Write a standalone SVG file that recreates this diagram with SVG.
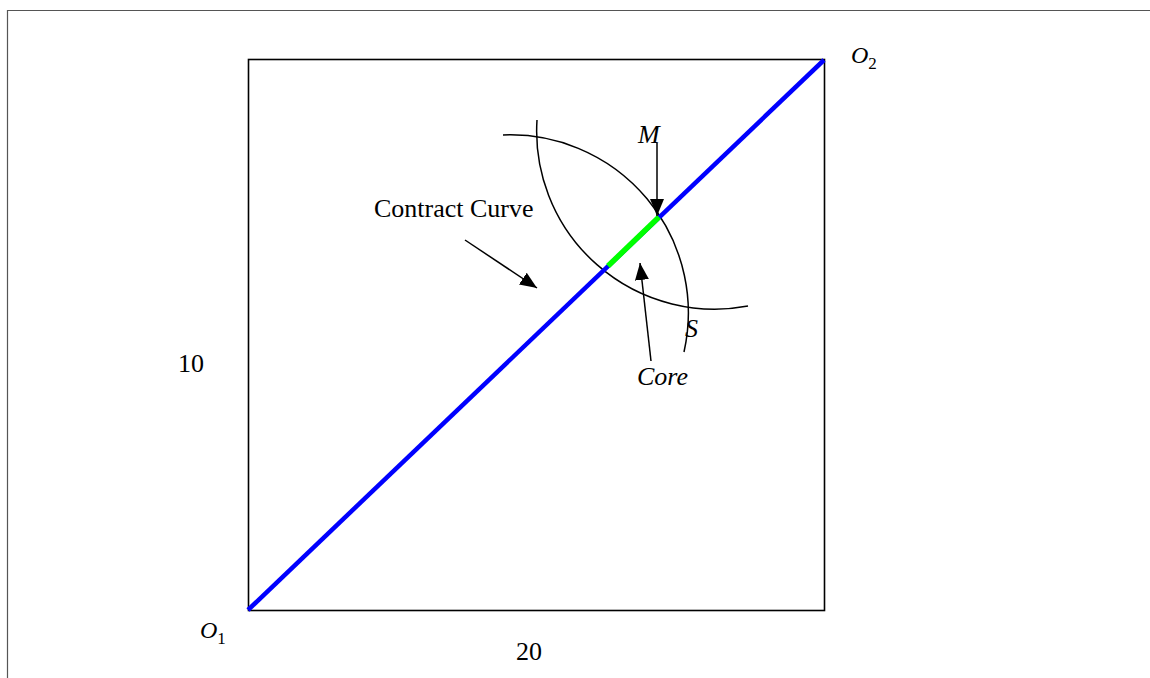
<svg xmlns="http://www.w3.org/2000/svg" width="1150" height="678" viewBox="0 0 1150 678">
<style>
.t{font-family:"Liberation Serif","Times New Roman",serif;font-size:26px;fill:#000}
.i{font-style:italic}
.c{fill:none;stroke:#000;stroke-width:1.5}
.a{fill:none;stroke:#000;stroke-width:1.5;marker-end:url(#ah)}
</style>
<defs>
<marker id="ah" viewBox="0 0 17 14" markerWidth="17" markerHeight="14" refX="17" refY="7" orient="auto" markerUnits="userSpaceOnUse">
<path d="M0,0 L17,7 L0,14 z" fill="#000"/>
</marker>
</defs>
<rect width="1150" height="678" fill="#fff"/>
<g id="frame">
<path d="M7.5,678 V10.5 H1150" fill="none" stroke="#555" stroke-width="1.2"/>
</g>
<g id="box">
<rect x="248.5" y="59.5" width="576" height="551" fill="none" stroke="#000" stroke-width="1.6"/>
</g>
<g id="curves">
<path id="curveA" class="c" d="M537,120 A178,178 0 0 0 748,306"/>
<path id="curveB" class="c" d="M503,135 A178,178 0 0 1 684,352"/>
</g>
<g id="contract-curve-line">
<line x1="248" y1="610" x2="824" y2="60" stroke="#0000ff" stroke-width="4.5"/>
<line x1="608" y1="266" x2="659" y2="217" stroke="#00ff00" stroke-width="5.5"/>
</g>
<g id="connectors">
<line class="a" x1="465" y1="240" x2="537" y2="288"/>
<line class="a" x1="657" y1="143" x2="657" y2="216"/>
<line class="a" x1="651" y1="361" x2="640" y2="263"/>
</g>
<g id="labels">
<text class="t" x="374" y="217">Contract Curve</text>
<text class="t i" x="638" y="143">M</text>
<text class="t i" x="685" y="337">S</text>
<text class="t i" x="637" y="385">Core</text>
<text class="t" x="178" y="372">10</text>
<text class="t" x="516" y="660">20</text>
<text class="t i" x="200" y="638" style="font-size:24px">O<tspan dy="6" style="font-style:normal;font-size:17px">1</tspan></text>
<text class="t i" x="851" y="63" style="font-size:24px">O<tspan dy="6" style="font-style:normal;font-size:17px">2</tspan></text>
</g>
</svg>
